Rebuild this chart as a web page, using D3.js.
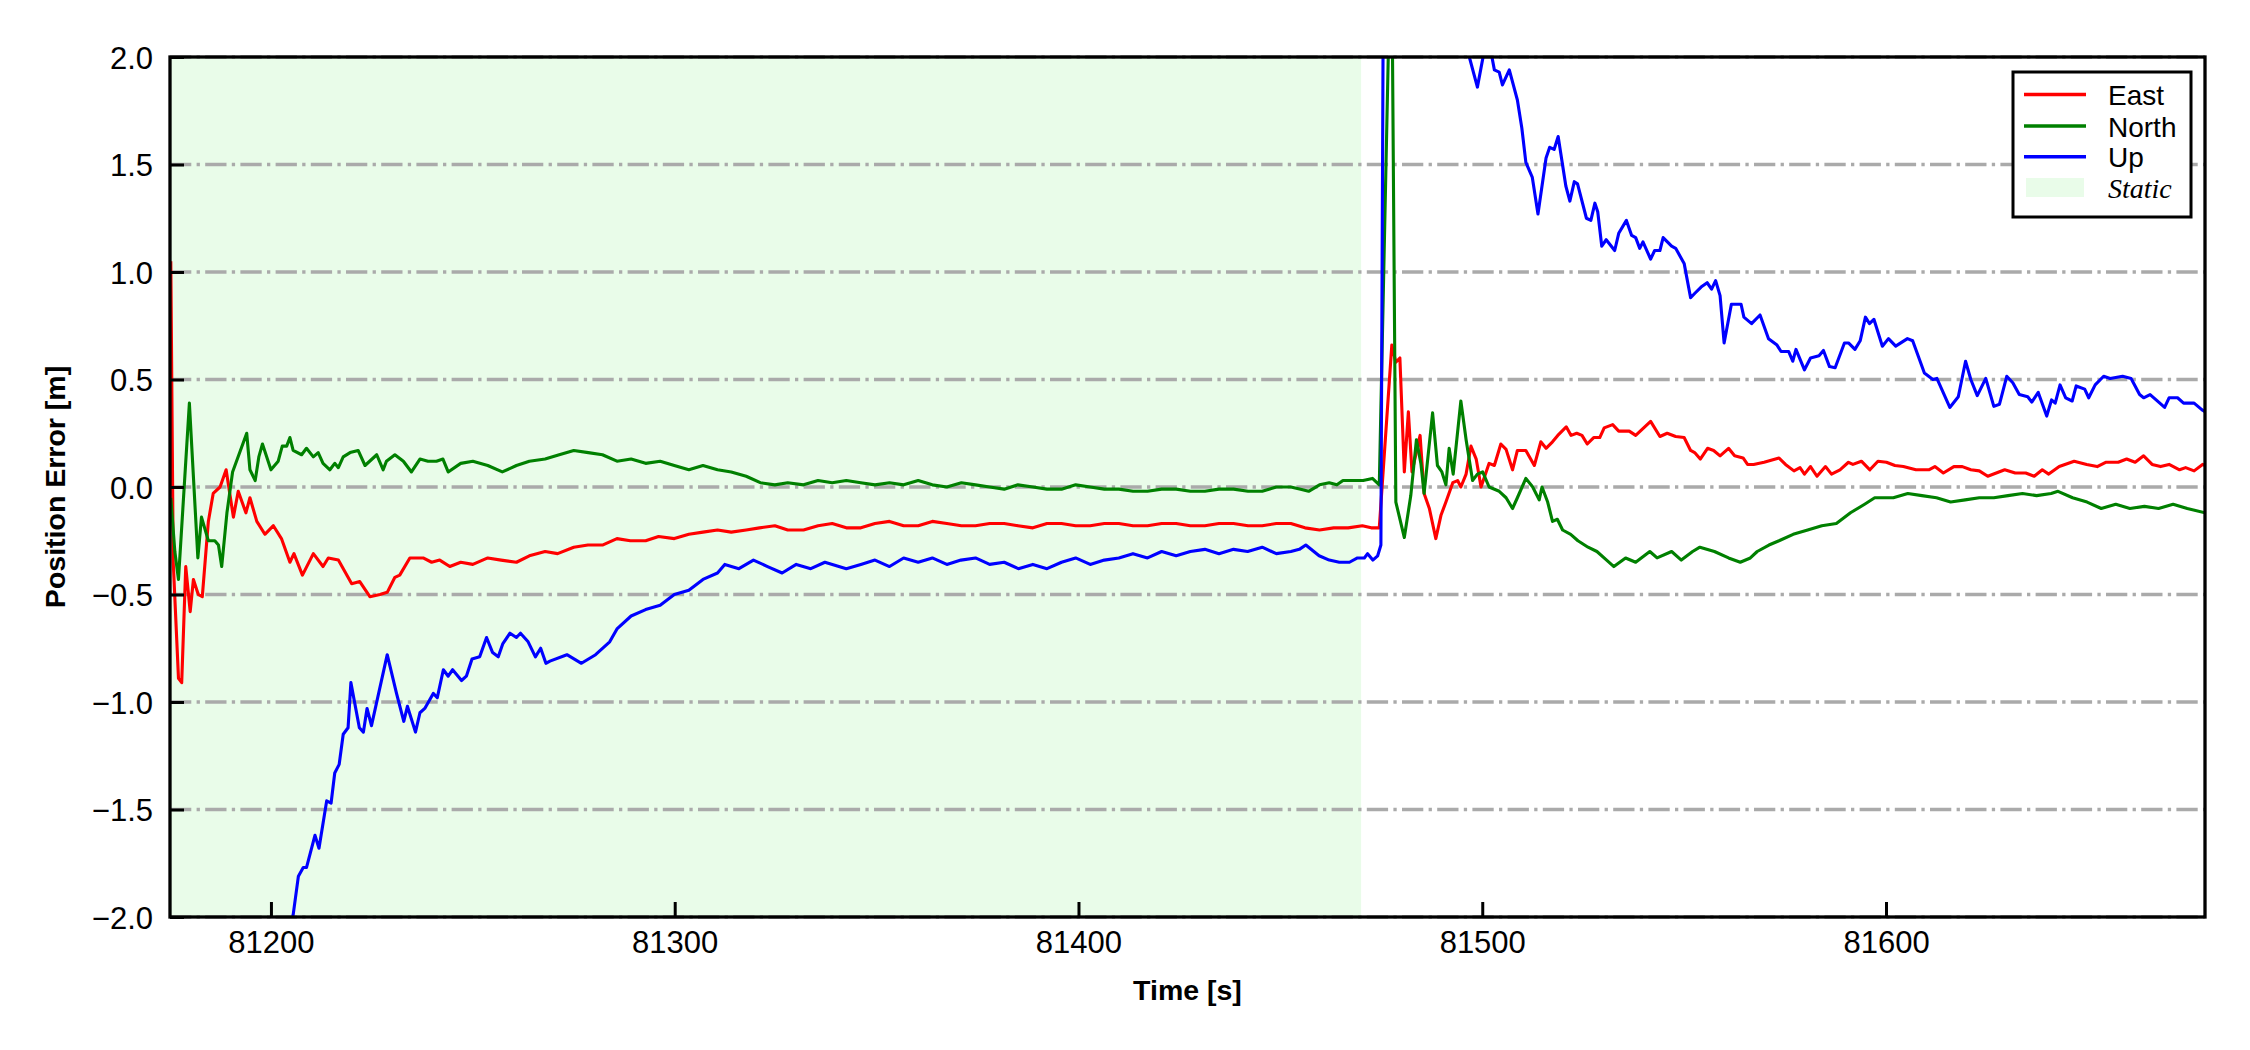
<!DOCTYPE html>
<html>
<head>
<meta charset="utf-8">
<script src="https://cdn.jsdelivr.net/npm/d3@7"></script>
<style>
  body { margin: 0; background: #fff; }
  .tick text { font-family: "Liberation Sans", Arial, sans-serif; font-size: 31px; fill: #000; }
  .aLabel { font-family: "Liberation Sans", Arial, sans-serif; font-size: 28.5px; font-weight: bold; fill: #000; }
  .legText { font-family: "Liberation Sans", Arial, sans-serif; font-size: 28px; fill: #000; }
</style>
</head>
<body>
<div class="chart"></div>
<script>
// Axis ranges and ticks
var timeRange = [81175, 81679];
var errRange = [-2, 2];
var xTicks = [81200, 81300, 81400, 81500, 81600];
var yTicks = [-2.0, -1.5, -1.0, -0.5, 0.0, 0.5, 1.0, 1.5, 2.0];
var staticSpan = [81175, 81470];
var legendLabels = ["East", "North", "Up", "Static"];

// Position error series, [time s, error m]
var east = [
  [81175.2, 1.05], [81175.8, -0.35], [81177.1, -0.89], [81177.9, -0.91], [81178.9, -0.37], [81180.0, -0.58],
  [81180.8, -0.43], [81182.0, -0.50], [81183.0, -0.51], [81184.5, -0.16], [81185.7, -0.03], [81187.4, 0.00],
  [81188.9, 0.08], [81190.7, -0.14], [81191.9, -0.02], [81193.8, -0.12], [81194.8, -0.05], [81196.5, -0.16],
  [81198.5, -0.22], [81200.6, -0.18], [81202.6, -0.24], [81204.7, -0.35], [81205.7, -0.31], [81207.8, -0.41],
  [81210.5, -0.31], [81212.9, -0.37], [81214.2, -0.33], [81216.7, -0.34], [81220.0, -0.45], [81222.0, -0.44],
  [81224.5, -0.51], [81227.0, -0.50], [81228.8, -0.49], [81230.7, -0.42], [81231.9, -0.41], [81234.4, -0.33],
  [81237.7, -0.33], [81239.8, -0.35], [81241.8, -0.34], [81244.3, -0.37], [81247.0, -0.35], [81250.0, -0.36],
  [81253.7, -0.33], [81257.0, -0.34], [81260.8, -0.35], [81264.0, -0.32], [81267.9, -0.30], [81271.0, -0.31],
  [81275.0, -0.28], [81278.5, -0.27], [81282.1, -0.27], [81285.7, -0.24], [81289.0, -0.25], [81292.8, -0.25],
  [81296.0, -0.23], [81299.9, -0.24], [81303.5, -0.22], [81307.0, -0.21], [81310.6, -0.20], [81314.0, -0.21],
  [81317.7, -0.20], [81321.0, -0.19], [81324.8, -0.18], [81328.0, -0.20], [81331.9, -0.20], [81335.5, -0.18],
  [81339.0, -0.17], [81342.5, -0.19], [81346.1, -0.19], [81349.6, -0.17], [81353.2, -0.16], [81356.7, -0.18],
  [81360.3, -0.18], [81363.8, -0.16], [81367.4, -0.17], [81371.0, -0.18], [81374.5, -0.18], [81378.0, -0.17],
  [81381.6, -0.17], [81385.0, -0.18], [81388.7, -0.19], [81392.2, -0.17], [81395.8, -0.17], [81399.3, -0.18],
  [81402.9, -0.18], [81406.4, -0.17], [81410.0, -0.17], [81413.5, -0.18], [81417.1, -0.18], [81420.6, -0.17],
  [81424.2, -0.17], [81427.7, -0.18], [81431.3, -0.18], [81434.8, -0.17], [81438.4, -0.17], [81442.0, -0.18],
  [81445.5, -0.18], [81449.0, -0.17], [81452.6, -0.17], [81456.1, -0.19], [81459.7, -0.20], [81463.2, -0.19],
  [81466.8, -0.19], [81470.3, -0.18], [81472.5, -0.19], [81474.5, -0.19], [81477.6, 0.66], [81478.6, 0.58],
  [81479.6, 0.60], [81480.7, 0.07], [81481.7, 0.35], [81482.6, 0.07], [81484.6, 0.24], [81485.6, -0.03],
  [81486.9, -0.10], [81488.5, -0.24], [81489.8, -0.13], [81491.0, -0.07], [81492.7, 0.02], [81493.9, 0.03],
  [81494.7, 0.00], [81496.0, 0.06], [81497.2, 0.19], [81498.5, 0.13], [81499.7, 0.00], [81501.7, 0.11],
  [81503.0, 0.10], [81504.6, 0.20], [81505.9, 0.175], [81507.5, 0.08], [81508.7, 0.17], [81510.8, 0.17],
  [81512.9, 0.10], [81514.5, 0.21], [81515.8, 0.18], [81517.4, 0.21], [81518.7, 0.24], [81520.8, 0.28],
  [81522.0, 0.24], [81523.4, 0.25], [81524.7, 0.24], [81526.0, 0.20], [81527.6, 0.23], [81529.1, 0.23],
  [81530.2, 0.275], [81532.3, 0.29], [81533.8, 0.26], [81536.4, 0.26], [81538.0, 0.24], [81541.7, 0.305],
  [81544.0, 0.235], [81545.8, 0.25], [81547.9, 0.235], [81550.0, 0.23], [81551.6, 0.17], [81552.6, 0.16],
  [81554.0, 0.13], [81555.8, 0.18], [81557.3, 0.17], [81558.9, 0.145], [81561.0, 0.18], [81562.5, 0.145],
  [81564.6, 0.135], [81565.7, 0.105], [81567.2, 0.105], [81569.8, 0.115], [81573.5, 0.135], [81575.1, 0.105],
  [81577.2, 0.075], [81578.7, 0.09], [81579.8, 0.06], [81581.3, 0.095], [81582.9, 0.05], [81585.0, 0.095],
  [81586.5, 0.06], [81588.6, 0.08], [81590.7, 0.115], [81591.8, 0.105], [81593.9, 0.12], [81596.0, 0.08],
  [81598.0, 0.12], [81600.1, 0.115], [81602.2, 0.10], [81604.3, 0.095], [81607.4, 0.08], [81610.6, 0.08],
  [81612.1, 0.095], [81614.2, 0.065], [81616.8, 0.095], [81618.9, 0.095], [81621.0, 0.08], [81623.1, 0.075],
  [81625.2, 0.05], [81627.3, 0.065], [81629.4, 0.08], [81632.0, 0.065], [81634.6, 0.065], [81636.7, 0.05],
  [81638.7, 0.08], [81640.3, 0.06], [81642.9, 0.095], [81646.6, 0.12], [81649.7, 0.105], [81652.3, 0.095],
  [81654.4, 0.115], [81657.5, 0.115], [81659.6, 0.13], [81661.7, 0.115], [81663.8, 0.145], [81665.9, 0.105],
  [81668.0, 0.095], [81670.1, 0.105], [81672.7, 0.08], [81674.2, 0.09], [81676.3, 0.075], [81678.4, 0.105],
  [81679.0, 0.10]
];

var north = [
  [81175.2, -0.05], [81176.2, -0.30], [81177.1, -0.43], [81179.8, 0.39], [81181.9, -0.33], [81182.8, -0.14],
  [81184.5, -0.25], [81186.1, -0.25], [81187.0, -0.27], [81187.8, -0.37], [81189.1, -0.12], [81190.5, 0.07],
  [81194.0, 0.25], [81194.8, 0.08], [81196.1, 0.03], [81197.0, 0.14], [81197.9, 0.20], [81200.0, 0.08],
  [81201.8, 0.12], [81202.8, 0.19], [81203.9, 0.19], [81204.7, 0.23], [81205.5, 0.17], [81207.6, 0.15],
  [81208.8, 0.18], [81210.5, 0.14], [81211.7, 0.16], [81212.9, 0.11], [81214.6, 0.08], [81215.8, 0.11],
  [81216.7, 0.09], [81217.9, 0.14], [81219.6, 0.16], [81221.6, 0.17], [81223.3, 0.10], [81226.2, 0.15],
  [81227.8, 0.08], [81228.6, 0.12], [81230.7, 0.15], [81232.8, 0.12], [81234.8, 0.07], [81236.9, 0.13],
  [81238.9, 0.12], [81241.0, 0.12], [81242.6, 0.13], [81243.9, 0.07], [81247.0, 0.11], [81250.0, 0.12],
  [81253.7, 0.10], [81257.3, 0.07], [81260.8, 0.10], [81264.0, 0.12], [81267.9, 0.13], [81271.4, 0.15],
  [81275.0, 0.17], [81278.6, 0.16], [81282.1, 0.15], [81285.7, 0.12], [81289.2, 0.13], [81292.8, 0.11],
  [81296.4, 0.12], [81299.9, 0.10], [81303.5, 0.08], [81307.0, 0.10], [81310.6, 0.08], [81314.0, 0.07],
  [81317.7, 0.05], [81321.2, 0.02], [81324.8, 0.01], [81328.0, 0.02], [81331.9, 0.01], [81335.5, 0.03],
  [81339.0, 0.02], [81342.5, 0.03], [81346.1, 0.02], [81349.6, 0.01], [81353.2, 0.02], [81356.7, 0.01],
  [81360.3, 0.03], [81363.8, 0.01], [81367.4, 0.00], [81371.0, 0.02], [81374.5, 0.01], [81378.0, 0.00],
  [81381.6, -0.01], [81385.0, 0.01], [81388.7, 0.00], [81392.2, -0.01], [81395.8, -0.01], [81399.3, 0.01],
  [81402.9, 0.00], [81406.4, -0.01], [81410.0, -0.01], [81413.5, -0.02], [81417.1, -0.02], [81420.6, -0.01],
  [81424.2, -0.01], [81427.7, -0.02], [81431.3, -0.02], [81434.8, -0.01], [81438.4, -0.01], [81442.0, -0.02],
  [81445.5, -0.02], [81449.0, 0.00], [81452.6, 0.00], [81455.0, -0.01], [81457.0, -0.02], [81459.7, 0.01],
  [81462.1, 0.02], [81464.0, 0.01], [81465.5, 0.03], [81468.0, 0.03], [81470.5, 0.03], [81472.8, 0.04],
  [81474.5, 0.01], [81477.5, 2.70], [81478.6, -0.07], [81480.7, -0.235], [81482.3, -0.04], [81483.7, 0.22],
  [81484.8, 0.11], [81485.6, -0.03], [81487.7, 0.345], [81488.9, 0.10], [81490.0, 0.07], [81491.0, 0.01],
  [81491.8, 0.18], [81492.8, 0.06], [81494.7, 0.40], [81496.0, 0.22], [81497.6, 0.03], [81498.8, 0.06],
  [81500.1, 0.07], [81501.7, 0.00], [81504.2, -0.02], [81505.9, -0.05], [81507.5, -0.10], [81508.7, -0.05],
  [81510.8, 0.04], [81512.5, 0.00], [81514.1, -0.06], [81514.8, 0.00], [81516.2, -0.07], [81517.4, -0.16],
  [81518.6, -0.15], [81519.9, -0.20], [81521.9, -0.22], [81523.7, -0.25], [81526.2, -0.28], [81528.4, -0.30],
  [81530.8, -0.34], [81532.6, -0.37], [81535.5, -0.33], [81538.0, -0.35], [81541.5, -0.30], [81543.3, -0.33],
  [81546.9, -0.30], [81549.3, -0.34], [81552.1, -0.30], [81553.9, -0.28], [81557.5, -0.30], [81561.0, -0.33],
  [81563.9, -0.35], [81566.4, -0.33], [81568.1, -0.30], [81571.0, -0.27], [81573.5, -0.25], [81577.0, -0.22],
  [81580.6, -0.20], [81584.1, -0.18], [81587.7, -0.17], [81591.2, -0.12], [81594.7, -0.08], [81597.2, -0.05],
  [81601.8, -0.05], [81605.4, -0.03], [81608.9, -0.04], [81612.5, -0.05], [81616.0, -0.07], [81619.6, -0.06],
  [81623.1, -0.05], [81626.7, -0.05], [81630.2, -0.04], [81633.8, -0.03], [81637.3, -0.04], [81640.9, -0.03],
  [81642.6, -0.02], [81646.2, -0.05], [81649.8, -0.07], [81653.3, -0.10], [81656.9, -0.08], [81660.4, -0.10],
  [81664.0, -0.09], [81667.5, -0.10], [81671.1, -0.08], [81674.6, -0.10], [81679.0, -0.12]
];

var up = [
  [81175.0, -4.6], [81190.0, -3.3], [81200.0, -2.6], [81205.5, -1.99], [81206.8, -1.81], [81208.0, -1.77],
  [81208.8, -1.77], [81210.9, -1.62], [81211.9, -1.68], [81213.8, -1.46], [81214.9, -1.47], [81215.8, -1.33],
  [81216.9, -1.29], [81217.9, -1.15], [81219.1, -1.12], [81219.8, -0.91], [81221.9, -1.12], [81222.9, -1.14],
  [81223.8, -1.03], [81224.9, -1.11], [81228.8, -0.78], [81231.1, -0.96], [81232.9, -1.09], [81233.8, -1.02],
  [81235.8, -1.14], [81236.9, -1.05], [81238.1, -1.03], [81240.2, -0.96], [81241.2, -0.98], [81242.7, -0.85],
  [81243.9, -0.88], [81245.0, -0.85], [81247.2, -0.90], [81248.4, -0.88], [81249.8, -0.80], [81251.7, -0.79],
  [81253.4, -0.70], [81254.9, -0.77], [81256.3, -0.79], [81257.4, -0.73], [81259.2, -0.68], [81260.8, -0.70],
  [81261.8, -0.68], [81263.7, -0.72], [81265.5, -0.79], [81266.8, -0.75], [81268.1, -0.82], [81269.1, -0.81],
  [81273.3, -0.78], [81276.9, -0.82], [81280.4, -0.78], [81283.9, -0.72], [81285.7, -0.66], [81289.2, -0.60],
  [81292.8, -0.57], [81296.4, -0.55], [81299.9, -0.50], [81303.5, -0.48], [81307.0, -0.43], [81310.6, -0.40],
  [81312.4, -0.36], [81315.9, -0.38], [81319.5, -0.34], [81323.0, -0.37], [81326.6, -0.40], [81330.1, -0.36],
  [81333.7, -0.38], [81337.2, -0.35], [81342.5, -0.38], [81346.1, -0.36], [81349.6, -0.34], [81353.2, -0.37],
  [81356.7, -0.33], [81360.3, -0.35], [81363.8, -0.33], [81367.4, -0.36], [81370.9, -0.34], [81374.5, -0.33],
  [81378.0, -0.36], [81381.6, -0.35], [81385.1, -0.38], [81388.7, -0.36], [81392.2, -0.38], [81395.8, -0.35],
  [81399.3, -0.33], [81402.9, -0.36], [81406.4, -0.34], [81410.0, -0.33], [81413.5, -0.31], [81417.1, -0.33],
  [81420.6, -0.30], [81424.2, -0.32], [81427.7, -0.30], [81431.3, -0.29], [81434.8, -0.31], [81438.4, -0.29],
  [81441.9, -0.30], [81445.5, -0.28], [81449.0, -0.31], [81452.6, -0.30], [81454.7, -0.29], [81456.3, -0.27],
  [81459.6, -0.32], [81462.1, -0.34], [81464.6, -0.35], [81467.1, -0.35], [81469.1, -0.33], [81470.8, -0.33],
  [81471.6, -0.31], [81472.9, -0.34], [81474.1, -0.32], [81474.9, -0.27], [81475.7, 3.2], [81480.0, 3.6],
  [81487.0, 3.1], [81493.0, 2.5], [81496.8, 2.00], [81498.8, 1.86], [81500.5, 2.03], [81502.4, 2.00],
  [81503.0, 1.94], [81504.2, 1.93], [81505.0, 1.87], [81506.7, 1.94], [81508.7, 1.80], [81509.8, 1.67],
  [81510.8, 1.51], [81512.4, 1.44], [81513.8, 1.27], [81515.8, 1.53], [81516.7, 1.58], [81517.8, 1.57],
  [81518.8, 1.63], [81520.7, 1.40], [81521.7, 1.33], [81522.8, 1.42], [81523.6, 1.41], [81525.8, 1.25],
  [81526.9, 1.24], [81527.9, 1.32], [81528.6, 1.28], [81529.6, 1.12], [81530.7, 1.15], [81532.8, 1.10],
  [81533.8, 1.18], [81535.7, 1.24], [81537.0, 1.17], [81538.0, 1.16], [81539.0, 1.11], [81539.8, 1.14],
  [81541.7, 1.06], [81542.7, 1.10], [81544.0, 1.10], [81544.8, 1.16], [81546.9, 1.12], [81547.9, 1.11],
  [81550.0, 1.04], [81551.6, 0.88], [81552.6, 0.90], [81554.2, 0.93], [81555.7, 0.95], [81556.8, 0.92],
  [81557.8, 0.96], [81558.9, 0.89], [81559.9, 0.67], [81561.7, 0.85], [81564.1, 0.85], [81564.8, 0.79],
  [81566.7, 0.76], [81568.8, 0.80], [81570.9, 0.69], [81573.0, 0.66], [81574.0, 0.63], [81575.9, 0.63],
  [81576.9, 0.585], [81577.7, 0.64], [81579.8, 0.545], [81581.3, 0.60], [81583.4, 0.61], [81584.5, 0.635],
  [81586.0, 0.56], [81587.4, 0.555], [81589.7, 0.67], [81590.7, 0.67], [81592.3, 0.64], [81593.6, 0.68],
  [81594.9, 0.79], [81595.9, 0.76], [81597.0, 0.78], [81599.1, 0.655], [81600.6, 0.69], [81602.4, 0.655],
  [81605.3, 0.69], [81606.6, 0.68], [81609.5, 0.53], [81611.6, 0.50], [81612.6, 0.505], [81615.8, 0.37],
  [81617.9, 0.42], [81619.7, 0.585], [81621.0, 0.50], [81622.6, 0.425], [81624.7, 0.505], [81626.7, 0.375],
  [81628.1, 0.385], [81629.9, 0.515], [81631.4, 0.485], [81633.0, 0.43], [81635.1, 0.42], [81636.1, 0.395],
  [81637.7, 0.44], [81639.8, 0.33], [81641.0, 0.405], [81641.9, 0.39], [81643.1, 0.475], [81644.5, 0.415],
  [81646.1, 0.40], [81647.1, 0.47], [81649.2, 0.455], [81650.2, 0.415], [81651.8, 0.475], [81653.9, 0.515],
  [81655.5, 0.505], [81658.6, 0.515], [81660.7, 0.505], [81662.8, 0.43], [81663.8, 0.415], [81665.4, 0.43],
  [81666.9, 0.405], [81669.0, 0.37], [81670.1, 0.415], [81672.2, 0.415], [81673.7, 0.39], [81676.3, 0.39],
  [81678.2, 0.36], [81679.0, 0.35]
];

var seriesList = [east, north, up];
var seriesColors = ["#ff0000", "#008000", "#0000ff"];
var staticFill = "rgb(233,252,233)";

// Set up chart
var svgWidth = 2250;
var svgHeight = 1050;

var margin = {
  top: 57,
  right: 45,
  bottom: 133,
  left: 170
};

var width = svgWidth - margin.left - margin.right;
var height = svgHeight - margin.top - margin.bottom;

var svg = d3
  .select(".chart")
  .append("svg")
  .attr("width", svgWidth)
  .attr("height", svgHeight);

svg.append("rect")
  .attr("width", svgWidth)
  .attr("height", svgHeight)
  .attr("fill", "#fff");

svg.append("defs")
  .append("clipPath")
  .attr("id", "plotClip")
  .append("rect")
  .attr("width", width)
  .attr("height", height);

var chartGroup = svg.append("g")
  .attr("transform", `translate(${margin.left}, ${margin.top})`);

var xScale = d3.scaleLinear().domain(timeRange).range([0, width]);
var yScale = d3.scaleLinear().domain(errRange).range([height, 0]);

// Static period shading
chartGroup.append("rect")
  .attr("x", xScale(staticSpan[0]))
  .attr("y", 0)
  .attr("width", xScale(staticSpan[1]) - xScale(staticSpan[0]))
  .attr("height", height)
  .attr("fill", staticFill);

// Dash-dot horizontal grid
chartGroup.append("g")
  .selectAll("line")
  .data(yTicks)
  .enter()
  .append("line")
  .attr("x1", 0)
  .attr("x2", width)
  .attr("y1", d => yScale(d))
  .attr("y2", d => yScale(d))
  .attr("stroke", "#aaaaaa")
  .attr("stroke-width", 3.3)
  .attr("stroke-dasharray", "21.3,5.3,3.3,5.3");

// Error lines
var lineGen = d3.line()
  .x(d => xScale(d[0]))
  .y(d => yScale(d[1]));

var linesGroup = chartGroup.append("g").attr("clip-path", "url(#plotClip)");
seriesList.forEach((s, i) => {
  linesGroup.append("path")
    .datum(s)
    .attr("d", lineGen)
    .attr("fill", "none")
    .attr("stroke", seriesColors[i])
    .attr("stroke-width", 3.1)
    .attr("stroke-linejoin", "round");
});

// Axes with inward ticks
var bottomAxis = d3.axisBottom(xScale)
  .tickValues(xTicks)
  .tickFormat(d3.format("d"))
  .tickSizeInner(-15)
  .tickSizeOuter(0);

var leftAxis = d3.axisLeft(yScale)
  .tickValues(yTicks)
  .tickFormat(d3.format(".1f"))
  .tickSizeInner(-14)
  .tickSizeOuter(0);

var xAxis = chartGroup.append("g")
  .attr("transform", `translate(0, ${height})`)
  .call(bottomAxis);
xAxis.select(".domain").remove();
xAxis.selectAll(".tick line").attr("stroke", "#000").attr("stroke-width", 3);
xAxis.selectAll(".tick text").attr("y", 36).attr("dy", null);

var yAxis = chartGroup.append("g")
  .call(leftAxis);
yAxis.select(".domain").remove();
yAxis.selectAll(".tick line").attr("stroke", "#000").attr("stroke-width", 3);
yAxis.selectAll(".tick text").attr("x", -17).attr("dy", "0.36em");

// Frame
chartGroup.append("rect")
  .attr("width", width)
  .attr("height", height)
  .attr("fill", "none")
  .attr("stroke", "#000")
  .attr("stroke-width", 3.3);

// Axis labels
chartGroup.append("text")
  .attr("class", "aLabel")
  .attr("x", width / 2)
  .attr("y", 943)
  .attr("text-anchor", "middle")
  .text("Time [s]");

chartGroup.append("text")
  .attr("class", "aLabel")
  .attr("transform", `translate(${65 - margin.left}, ${height / 2}) rotate(-90)`)
  .attr("text-anchor", "middle")
  .text("Position Error [m]");

// Legend
var legend = svg.append("g").attr("transform", "translate(2013, 72)");
legend.append("rect")
  .attr("width", 178)
  .attr("height", 145)
  .attr("fill", "#fff")
  .attr("stroke", "#000")
  .attr("stroke-width", 3);

var rowY = [22.5, 54, 84.8, 115.6];
seriesColors.forEach((c, i) => {
  legend.append("line")
    .attr("x1", 11).attr("x2", 73)
    .attr("y1", rowY[i]).attr("y2", rowY[i])
    .attr("stroke", c)
    .attr("stroke-width", 3.4);
  legend.append("text")
    .attr("class", "legText")
    .attr("x", 95)
    .attr("y", rowY[i] + 10.5)
    .text(legendLabels[i]);
});

legend.append("rect")
  .attr("x", 13)
  .attr("y", 106)
  .attr("width", 58)
  .attr("height", 19)
  .attr("fill", staticFill);

legend.append("text")
  .attr("x", 95)
  .attr("y", 126)
  .attr("font-family", "'Liberation Serif', 'Times New Roman', serif")
  .attr("font-style", "italic")
  .attr("font-size", "28px")
  .text(legendLabels[3]);
</script>
</body>
</html>
